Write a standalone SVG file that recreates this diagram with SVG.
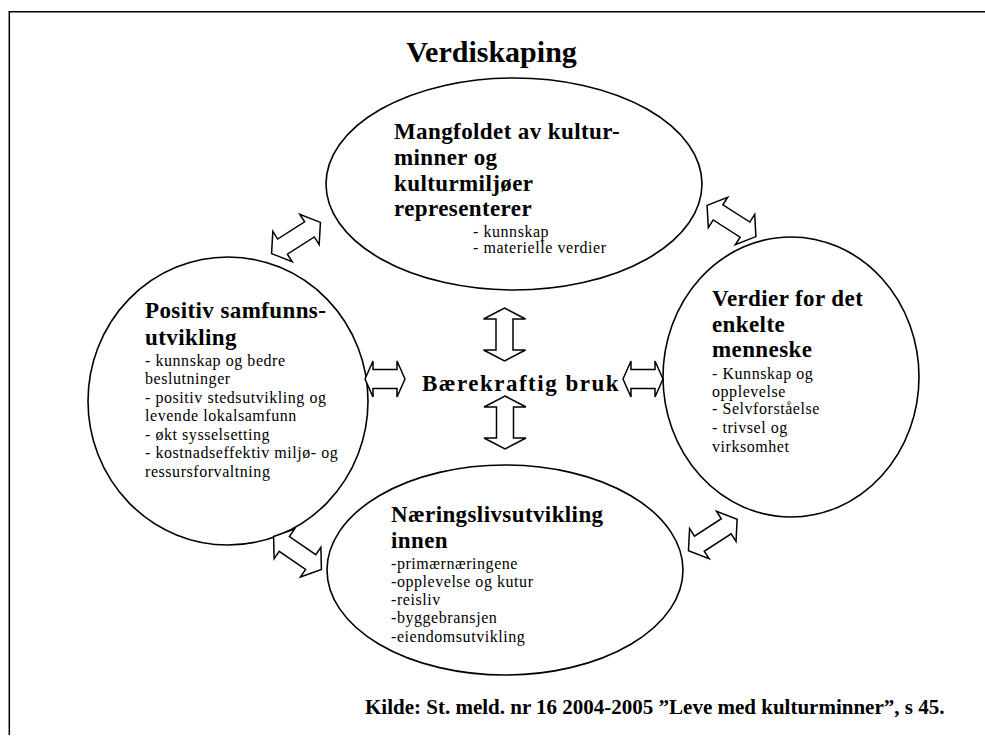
<svg xmlns="http://www.w3.org/2000/svg" xmlns:xlink="http://www.w3.org/1999/xlink" width="985" height="742" viewBox="0 0 985 742">
<style>
.frame{fill:none;stroke:#000;stroke-width:1.5}
.node{fill:#fff;stroke:#000;stroke-width:1.6}
.arr{fill:#fff;stroke:#000;stroke-width:1.5;stroke-linejoin:miter}
text{font-family:"Liberation Serif","Times New Roman",serif;fill:#000}
.h{font-size:23px;font-weight:bold;letter-spacing:0.4px}
.b{font-size:16px;letter-spacing:0.55px}
.t{font-size:30px;font-weight:bold}
.c{font-size:21px;font-weight:bold}
</style>
<defs>
<path id="ah" d="M-20 0 L-12 -18 L-12 -9.5 L12 -9.5 L12 -18 L20 0 L12 18 L12 9.5 L-12 9.5 L-12 18 Z"/>
<path id="av" d="M-26.5 0 L-15.5 -21 L-15.5 -8.5 L15.5 -8.5 L15.5 -21 L26.5 0 L15.5 21 L15.5 8.5 L-15.5 8.5 L-15.5 21 Z"/>
<path id="ad" d="M-29 0 L-16 -18 L-16 -9 L16 -9 L16 -18 L29 0 L16 18 L16 9 L-16 9 L-16 18 Z"/>
</defs>
<rect width="985" height="742" fill="#fff"/>
<path class="frame" d="M9.3 735 L9.3 11.7 L985 11.7"/>
<text class="t" x="491.5" y="62" text-anchor="middle">Verdiskaping</text>

<g id="node-top">
<ellipse class="node" cx="514" cy="184" rx="188" ry="106"/>
<text class="h" x="394" y="139">Mangfoldet av kultur-</text>
<text class="h" x="394" y="165">minner og</text>
<text class="h" x="394" y="191">kulturmiljøer</text>
<text class="h" x="394" y="216">representerer</text>
<text class="b" x="473" y="237">- kunnskap</text>
<text class="b" x="473" y="253">- materielle verdier</text>
</g>

<g id="node-left">
<ellipse class="node" cx="228" cy="401" rx="140" ry="144"/>
<text class="h" x="145" y="318">Positiv samfunns-</text>
<text class="h" x="145" y="345">utvikling</text>
<text class="b" x="145" y="366">- kunnskap og bedre</text>
<text class="b" x="145" y="384">beslutninger</text>
<text class="b" x="145" y="403">- positiv stedsutvikling og</text>
<text class="b" x="145" y="421">levende lokalsamfunn</text>
<text class="b" x="145" y="440">- økt sysselsetting</text>
<text class="b" x="145" y="458">- kostnadseffektiv miljø- og</text>
<text class="b" x="145" y="477">ressursforvaltning</text>
</g>

<g id="node-right">
<ellipse class="node" cx="791" cy="377" rx="128" ry="140"/>
<text class="h" x="712" y="306">Verdier for det</text>
<text class="h" x="712" y="332">enkelte</text>
<text class="h" x="712" y="357">menneske</text>
<text class="b" x="712" y="379">- Kunnskap og</text>
<text class="b" x="712" y="397">opplevelse</text>
<text class="b" x="712" y="414">- Selvforståelse</text>
<text class="b" x="712" y="433">- trivsel og</text>
<text class="b" x="712" y="452">virksomhet</text>
</g>

<g id="node-bottom">
<ellipse class="node" cx="505" cy="570" rx="178" ry="105"/>
<text class="h" x="391" y="522">Næringslivsutvikling</text>
<text class="h" x="391" y="548">innen</text>
<text class="b" x="391" y="569">-primærnæringene</text>
<text class="b" x="391" y="587">-opplevelse og kutur</text>
<text class="b" x="391" y="605">-reisliv</text>
<text class="b" x="391" y="623">-byggebransjen</text>
<text class="b" x="391" y="642">-eiendomsutvikling</text>
</g>

<g id="node-center">
<text class="h" x="422" y="391" style="letter-spacing:1.5px">Bærekraftig bruk</text>
</g>

<g id="connectors">
<use xlink:href="#ah" href="#ah" class="arr" transform="translate(385 379)"/>
<use xlink:href="#ah" href="#ah" class="arr" transform="translate(643 379)"/>
<use xlink:href="#av" href="#av" class="arr" transform="translate(504.5 334.5) rotate(90)"/>
<use xlink:href="#av" href="#av" class="arr" transform="translate(505 422.5) rotate(90)"/>
<use xlink:href="#ad" href="#ad" class="arr" transform="translate(296 238) rotate(-32.6)"/>
<use xlink:href="#ad" href="#ad" class="arr" transform="translate(731.5 221) rotate(32.6)"/>
<use xlink:href="#ad" href="#ad" class="arr" transform="translate(297.5 553) rotate(34.5)"/>
<use xlink:href="#ad" href="#ad" class="arr" transform="translate(712.8 535) rotate(-32.9)"/>
</g>

<text class="c" x="365" y="714">Kilde: St. meld. nr 16 2004-2005 ”Leve med kulturminner”, s 45.</text>
</svg>
